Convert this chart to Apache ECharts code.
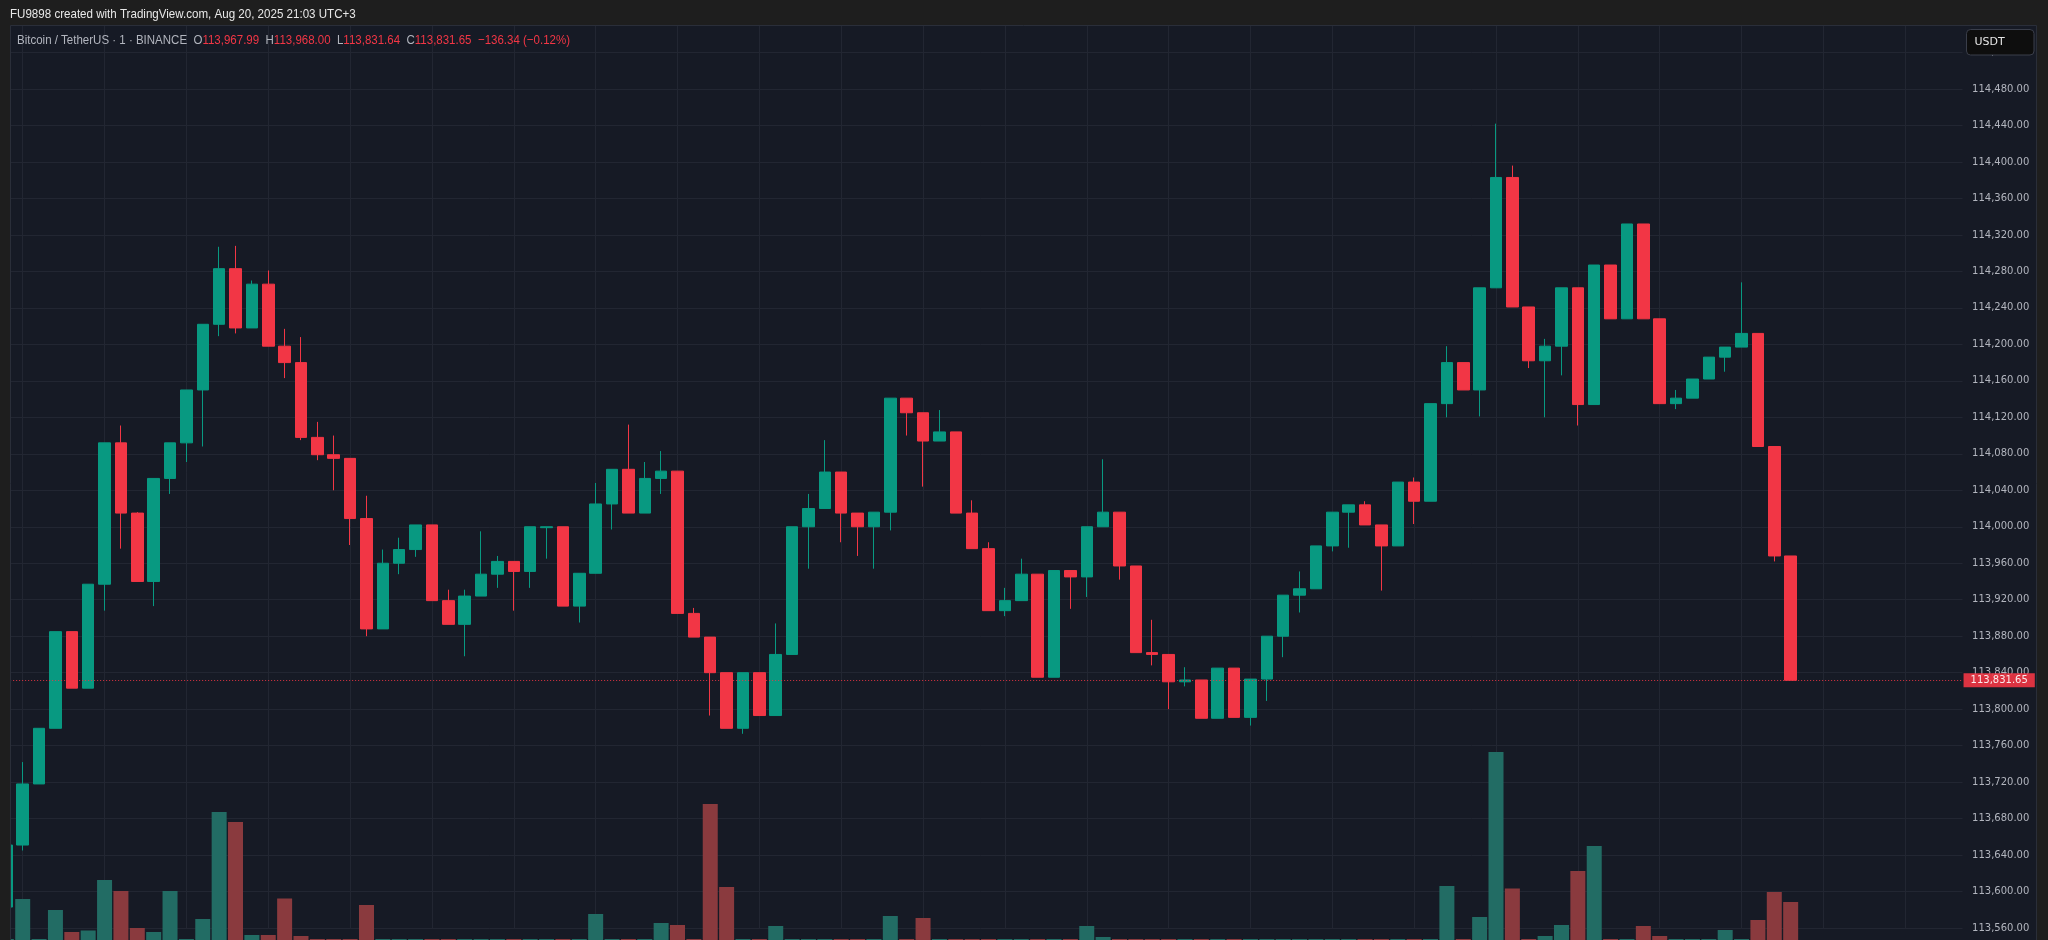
<!DOCTYPE html>
<html lang="en">
<head>
<meta charset="UTF-8">
<title>Bitcoin / TetherUS 1m</title>
<style>
    *{ margin: 0; padding: 0; }
    html, body{ background: #161a25; }
    #main{ width: 2048px; height: 940px; }
</style>
</head>
<body>
<div id="main"></div>
<script src="https://cdn.jsdelivr.net/npm/echarts@6.0.0/dist/echarts.min.js"></script>
<script type="text/javascript">
    // 1 minute candles, first one is the cut-off bar at the left edge
    var openP = [113583, 113651, 113718, 113779, 113885, 113823, 113937, 114092, 114015, 113940,
        114053, 114092, 114150, 114222, 114283, 114218, 114266, 114198, 114180, 114098,
        114079, 114075, 114009, 113888, 113960, 113975, 114002, 113919, 113893, 113924,
        113948, 113962, 113951, 113999, 114000, 113913, 113949, 114025, 114063, 114015,
        114053, 114061, 113905, 113879, 113840, 113779, 113840, 113793, 113860, 114000,
        114020, 114060, 114015, 114000, 114016, 114141, 114125, 114094, 114104, 114015,
        113976, 113908, 113919, 113948, 113835, 113952, 113945, 114000, 114016, 113957,
        113862, 113860, 113830, 113832, 113790, 113845, 113791, 113833, 113880, 113925,
        113932, 113979, 114016, 114024, 114002, 113979, 114049, 114028, 114135, 114180,
        114150, 114262, 114383, 114241, 114182, 114198, 114262, 114134, 114287, 114228,
        114332, 114228, 114135, 114141, 114162, 114186, 114197, 114212, 114088, 113967.99];
    var highP = [113655, 113742, 113779, 113885, 113885, 113937, 114092, 114111, 114016, 114053,
        114092, 114150, 114222, 114307, 114308, 114270, 114281, 114217, 114208, 114115,
        114100, 114075, 114034, 113975, 113988, 114002, 114002, 113931, 113931, 113995,
        113968, 113962, 114000, 114000, 114000, 113949, 114048, 114063, 114112, 114071,
        114083, 114061, 113911, 113879, 113840, 113840, 113840, 113894, 114000, 114036,
        114095, 114060, 114015, 114016, 114141, 114141, 114125, 114128, 114104, 114029,
        113983, 113933, 113965, 113948, 113952, 113952, 114000, 114074, 114016, 113957,
        113898, 113860, 113846, 113832, 113845, 113845, 113833, 113880, 113925, 113951,
        113979, 114016, 114024, 114028, 114002, 114049, 114054, 114135, 114198, 114180,
        114262, 114442, 114396, 114241, 114206, 114262, 114262, 114287, 114287, 114332,
        114332, 114228, 114150, 114162, 114186, 114197, 114268, 114212, 114088, 113968.00];
    var lowP = [113580, 113645, 113718, 113779, 113823, 113823, 113908, 113976, 113940, 113913,
        114036, 114071, 114088, 114209, 114212, 114218, 114198, 114163, 114095, 114073,
        114040, 113980, 113880, 113888, 113948, 113967, 113919, 113893, 113858, 113924,
        113933, 113908, 113933, 113965, 113913, 113895, 113949, 113997, 114015, 114015,
        114036, 113905, 113879, 113793, 113779, 113773, 113793, 113793, 113860, 113954,
        114020, 113983, 113968, 113954, 113996, 114100, 114044, 114094, 114015, 113976,
        113908, 113902, 113919, 113835, 113835, 113910, 113923, 114000, 113942, 113862,
        113848, 113800, 113825, 113790, 113790, 113791, 113782, 113809, 113857, 113906,
        113932, 113973, 113977, 114002, 113930, 113979, 114003, 114028, 114120, 114150,
        114121, 114262, 114241, 114174, 114120, 114166, 114111, 114134, 114228, 114228,
        114228, 114135, 114129, 114141, 114162, 114170, 114197, 114088, 113962, 113831.64];
    var closeP = [113651, 113718, 113779, 113885, 113823, 113937, 114092, 114015, 113940, 114053,
        114092, 114150, 114222, 114283, 114218, 114266, 114198, 114180, 114098, 114079,
        114075, 114009, 113888, 113960, 113975, 114002, 113919, 113893, 113924, 113948,
        113962, 113951, 114000, 114000, 113913, 113949, 114025, 114063, 114015, 114053,
        114061, 113905, 113879, 113840, 113779, 113840, 113793, 113860, 114000, 114020,
        114060, 114015, 114000, 114016, 114141, 114125, 114094, 114104, 114015, 113976,
        113908, 113919, 113948, 113835, 113952, 113945, 114000, 114016, 113957, 113862,
        113860, 113830, 113832, 113790, 113845, 113791, 113833, 113880, 113925, 113932,
        113979, 114016, 114024, 114002, 113979, 114049, 114028, 114135, 114180, 114150,
        114262, 114383, 114241, 114182, 114198, 114262, 114134, 114287, 114228, 114332,
        114228, 114135, 114141, 114162, 114186, 114197, 114212, 114088, 113967.99, 113831.65];
    var volume = [1, 41, 1, 30, 8, 9.5, 60, 49, 12, 8,
        49, 1, 21, 128, 118, 5, 5, 41.5, 4, 1,
        1, 1, 35, 1, 1, 1, 1, 1, 1, 1,
        1, 1, 1, 1, 1, 1, 26, 1, 1, 1,
        17, 15, 1, 136, 53, 1, 1, 14, 1, 1,
        1, 1, 1, 1, 24, 1, 22, 1, 1, 1,
        1, 1, 1, 1, 1, 1, 14, 3, 1, 1,
        1, 1, 1, 1, 1, 1, 1, 1, 1, 1,
        1, 1, 1, 1, 1, 1, 1, 1, 54, 1,
        23, 188, 51.5, 1, 4, 15, 69, 94, 1, 1,
        14, 4, 1, 1, 1, 10, 1, 20, 48, 38];

    var symbolName = 'Bitcoin / TetherUS · 1 · BINANCE';
    var headerText = 'FU9898 created with TradingView.com, Aug 20, 2025 21:03 UTC+3';
    var startTime = '19:14';
    var slotCount = 120;   // candles plus empty space on the right

    var upColor = '#089981';
    var downColor = '#f23645';
    var volUp = '#226c64';
    var volDown = '#8a3a3e';
    var gridColor = '#222632';
    var frameColor = '#1e1e1e';
    var uiFont = 'Liberation Sans, Arial, sans-serif';

    function pad(n) { return (n < 10 ? '0' : '') + n; }
    function fmt(v) {
        return v.toLocaleString('en-US', { minimumFractionDigits: 2, maximumFractionDigits: 2 });
    }

    var times = [];
    var t0 = parseInt(startTime.split(':')[0], 10) * 60 + parseInt(startTime.split(':')[1], 10);
    for (var k = 0; k < slotCount; k++) {
        var m = t0 + k;
        times.push(pad(Math.floor(m / 60) % 24) + ':' + pad(m % 60));
    }

    var candles = openP.map(function (o, i) { return [o, closeP[i], lowP[i], highP[i]]; });
    var volBars = volume.map(function (v, i) {
        return { value: v, itemStyle: { color: closeP[i] >= openP[i] ? volUp : volDown } };
    });

    // vertical grid every 5 bars
    var vLines = [];
    for (var g = 1; g < slotCount; g += 5) {
        vLines.push({ xAxis: times[g] });
    }

    var n = closeP.length;
    var lastO = openP[n - 1], lastH = highP[n - 1], lastL = lowP[n - 1], lastC = closeP[n - 1];
    var chg = lastC - closeP[n - 2];
    var chgPct = chg / closeP[n - 2] * 100;
    var sign = chg < 0 ? '\u2212' : '+';
    var legendText = '{t|' + symbolName + '}  ' +
        '{t|O}{v|' + fmt(lastO) + '}  ' +
        '{t|H}{v|' + fmt(lastH) + '}  ' +
        '{t|L}{v|' + fmt(lastL) + '}  ' +
        '{t|C}{v|' + fmt(lastC) + '}  ' +
        '{v|' + sign + fmt(Math.abs(chg)) + ' (' + sign + Math.abs(chgPct).toFixed(2) + '%)}';

    var myChart = echarts.init(document.getElementById('main'));

    var option = {
        backgroundColor: '#161a25',
        animation: false,
        grid: [
            { left: -1.85, right: 85.45, top: 16.04, bottom: 11.96, containLabel: false, outerBoundsMode: 'none' },
            { left: -1.85, right: 85.45, top: 740, bottom: 0, containLabel: false, outerBoundsMode: 'none' }
        ],
        xAxis: [
            { type: 'category', data: times, boundaryGap: true, show: false, gridIndex: 0 },
            { type: 'category', data: times, boundaryGap: true, show: false, gridIndex: 1 }
        ],
        yAxis: [
            {
                type: 'value',
                gridIndex: 0,
                position: 'right',
                min: 113560,
                max: 114560,
                interval: 40,
                axisLine: { show: false },
                axisTick: { show: false },
                splitLine: { lineStyle: { color: gridColor, width: 1 } },
                axisLabel: {
                    margin: 9.5,
                    color: '#b2b5be',
                    fontSize: 10,
                    fontFamily: 'DejaVu Sans',
                    formatter: function (v) { return fmt(v); }
                }
            },
            { type: 'value', gridIndex: 1, min: 0, max: 200, show: false, splitLine: { show: false } }
        ],
        graphic: [
            { type: 'rect', z: 100, shape: { x: 0, y: 0, width: 2048, height: 25 }, style: { fill: frameColor } },
            { type: 'rect', z: 100, shape: { x: 0, y: 25, width: 10, height: 915 }, style: { fill: frameColor } },
            { type: 'rect', z: 100, shape: { x: 2037, y: 25, width: 11, height: 915 }, style: { fill: frameColor } },
            {
                type: 'rect', z: 100, silent: true,
                shape: { x: 10.5, y: 25.5, width: 2026, height: 920 },
                style: { fill: 'none', stroke: '#2a2e39', lineWidth: 1 }
            },
            {
                type: 'text', z: 101, x: 10, y: 14, scaleX: 0.89,
                style: {
                    text: headerText, fill: '#e8e8e8', fontSize: 13,
                    fontFamily: uiFont, verticalAlign: 'middle'
                }
            },
            {
                type: 'text', z: 101, x: 17, y: 40.5, scaleX: 0.885,
                style: {
                    text: legendText, verticalAlign: 'middle',
                    fontFamily: uiFont, fontSize: 13,
                    rich: {
                        t: { fill: '#b2b5be', fontSize: 13, fontFamily: uiFont },
                        v: { fill: downColor, fontSize: 13, fontFamily: uiFont }
                    }
                }
            },
            {
                type: 'rect', z: 101,
                shape: { x: 1966.5, y: 29.5, width: 67.5, height: 25.5, r: 4 },
                style: { fill: '#0e0e0e', stroke: '#3a3e4a', lineWidth: 1 }
            },
            {
                type: 'text', z: 102, x: 1974.5, y: 42.5,
                style: { text: 'USDT', fill: '#e6e6e6', fontSize: 11, fontFamily: 'DejaVu Sans', verticalAlign: 'middle' }
            }
        ],
        series: [
            {
                name: 'grid',
                type: 'line',
                xAxisIndex: 0,
                yAxisIndex: 0,
                data: [],
                silent: true,
                markLine: {
                    z: 0,
                    silent: true,
                    symbol: 'none',
                    label: { show: false },
                    lineStyle: { color: gridColor, type: 'solid', width: 1 },
                    emphasis: { disabled: true },
                    data: vLines
                }
            },
            {
                name: 'Volume',
                type: 'bar',
                xAxisIndex: 1,
                yAxisIndex: 1,
                barWidth: 15,
                z: 1,
                data: volBars
            },
            {
                name: 'BTCUSDT',
                type: 'candlestick',
                xAxisIndex: 0,
                yAxisIndex: 0,
                barWidth: 12,
                z: 3,
                data: candles,
                itemStyle: {
                    color: upColor,
                    color0: downColor,
                    borderColor: upColor,
                    borderColor0: downColor,
                    borderWidth: 1
                },
                markLine: {
                    silent: true,
                    symbol: 'none',
                    lineStyle: { color: downColor, type: [1, 2], width: 1, opacity: 0.9 },
                    label: {
                        show: true,
                        position: 'end',
                        distance: 1,
                        formatter: function (p) { return fmt(p.value); },
                        backgroundColor: downColor,
                        color: '#ffffff',
                        fontSize: 10,
                        fontFamily: 'DejaVu Sans',
                        padding: [2, 7, 2, 7]
                    },
                    data: [{ yAxis: lastC }]
                }
            }
        ]
    };

    myChart.setOption(option);
</script>
</body>
</html>
